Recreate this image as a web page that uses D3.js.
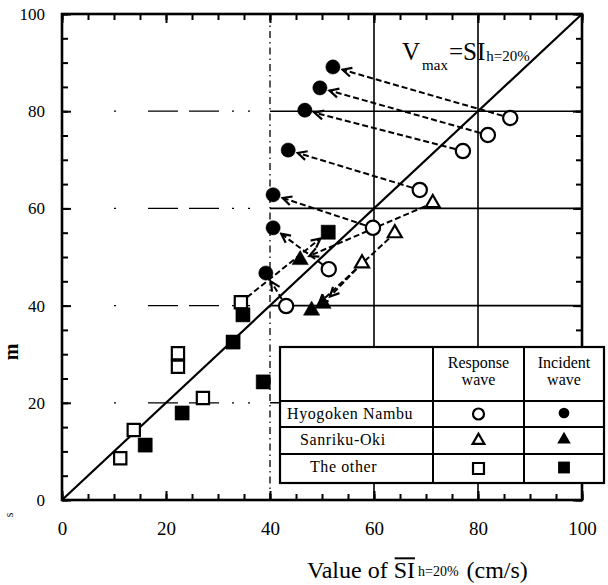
<!DOCTYPE html>
<html>
<head>
<meta charset="utf-8">
<script src="https://cdn.jsdelivr.net/npm/d3@7"></script>
<style>
  body { margin: 0; background: #fff; }
  svg { display: block; font-family: "Liberation Serif", "DejaVu Serif", serif; }
  svg text { font-family: "Liberation Serif", "DejaVu Serif", serif; }
</style>
</head>
<body>
<svg id="chart" width="608" height="585"></svg>
<script>
// values, [SI_h=20%, Vmax]
var hyogokenResponse = [[86.2, 78.6], [81.9, 75.1], [77.1, 71.8], [68.8, 63.8], [59.8, 56.0], [51.3, 47.5], [43.1, 39.9]];
var hyogokenIncident = [[52.1, 89.1], [49.6, 84.8], [46.7, 80.2], [43.5, 72.0], [40.6, 62.8], [40.6, 56.0], [39.2, 46.7]];
var sanrikuResponse = [[71.3, 61.1], [64.0, 54.9], [57.7, 48.7]];
var sanrikuIncident = [[45.8, 49.4], [48.0, 39.0], [50.2, 40.4]];
var otherResponse = [[11.2, 8.6], [13.8, 14.4], [22.3, 30.2], [22.3, 27.4], [27.1, 21.0], [34.4, 40.7]];
var otherIncident = [[16.0, 11.3], [23.1, 17.9], [32.9, 32.5], [34.8, 38.1], [38.7, 24.3], [51.2, 55.1]];
// which response point moved to which incident point (dashed arrows)
var hyogokenLinks = [[0, 0], [1, 1], [2, 2], [3, 3], [4, 4], [5, 5], [6, 6]];
var sanrikuLinks = [[0, 0], [1, 1], [2, 2]];
var otherLinks = [[5, 5]];

var majorTicks = [0, 20, 40, 60, 80, 100];
var minorTicks = d3.range(0, 101, 5);
var gridValues = [20, 40, 60, 80];
var rowLabels = ["Hyogoken Nambu", "Sanriku-Oki", "The other"];

var svg = d3.select("#chart");
var pl = 62, pr = 582, pt = 14, pb = 500;

var x = d3.scaleLinear().domain([0, 100]).range([pl, pr]);
var y = d3.scaleLinear().domain([0, 100]).range([pb, pt]);

// grid
var grid = svg.append("g").attr("stroke", "#000").attr("fill", "none");
gridValues.forEach(function(v) {
  grid.append("line")
    .attr("x1", x(10)).attr("x2", x(40)).attr("y1", y(v)).attr("y2", y(v))
    .attr("stroke-width", 1.3).attr("stroke-dasharray", "2,32,30,11,30,13,2,14");
  grid.append("line")
    .attr("x1", x(40)).attr("x2", x(100)).attr("y1", y(v)).attr("y2", y(v))
    .attr("stroke-width", 1.6);
});
grid.append("line")
  .attr("x1", x(40)).attr("x2", x(40)).attr("y1", y(0)).attr("y2", y(100))
  .attr("stroke-width", 1.3).attr("stroke-dasharray", "7,4,1.5,4");
[60, 80].forEach(function(v) {
  grid.append("line")
    .attr("x1", x(v)).attr("x2", x(v)).attr("y1", y(0)).attr("y2", y(100))
    .attr("stroke-width", 1.6);
});

// 1:1 line
svg.append("line")
  .attr("x1", x(0)).attr("y1", y(0)).attr("x2", x(100)).attr("y2", y(100))
  .attr("stroke", "#000").attr("stroke-width", 2.2);

// arrowhead
svg.append("defs").append("marker")
  .attr("id", "chev")
  .attr("markerUnits", "userSpaceOnUse")
  .attr("viewBox", "-12 -7 14 14")
  .attr("markerWidth", 14).attr("markerHeight", 14)
  .attr("refX", 0).attr("refY", 0)
  .attr("orient", "auto")
  .append("path")
  .attr("d", "M-9,-4.5 L0,0 L-9,4.5")
  .attr("fill", "none").attr("stroke", "#000").attr("stroke-width", 2.2);

function drawLinks(resp, inc, links) {
  links.forEach(function(l) {
    var p0 = [x(resp[l[0]][0]), y(resp[l[0]][1])];
    var p1 = [x(inc[l[1]][0]), y(inc[l[1]][1])];
    var dx = p1[0] - p0[0], dy = p1[1] - p0[1];
    var len = Math.sqrt(dx * dx + dy * dy);
    var s = 8 / len, e = 10 / len;
    svg.append("line")
      .attr("x1", p0[0] + dx * s).attr("y1", p0[1] + dy * s)
      .attr("x2", p1[0] - dx * e).attr("y2", p1[1] - dy * e)
      .attr("stroke", "#000").attr("stroke-width", 2)
      .attr("stroke-dasharray", "6,3")
      .attr("marker-end", "url(#chev)");
  });
}
drawLinks(hyogokenResponse, hyogokenIncident, hyogokenLinks);
drawLinks(sanrikuResponse, sanrikuIncident, sanrikuLinks);
drawLinks(otherResponse, otherIncident, otherLinks);

// markers
function drawPoints(data, type, size, filled) {
  svg.append("g").selectAll("path").data(data).enter().append("path")
    .attr("transform", function(d) { return "translate(" + x(d[0]) + "," + y(d[1]) + ")"; })
    .attr("d", d3.symbol().type(type).size(size))
    .attr("fill", filled ? "#000" : "#fff")
    .attr("stroke", "#000").attr("stroke-width", filled ? 0.5 : 2.2);
}
drawPoints(hyogokenResponse, d3.symbolCircle, 160, false);
drawPoints(hyogokenIncident, d3.symbolCircle, 160, true);
drawPoints(sanrikuResponse, d3.symbolTriangle, 85, false);
drawPoints(sanrikuIncident, d3.symbolTriangle, 115, true);
drawPoints(otherResponse, d3.symbolSquare, 150, false);
drawPoints(otherIncident, d3.symbolSquare, 200, true);

// axes: ticks inward on all four sides
function tickAxis(axis, tr, size, labels, pad) {
  var g = svg.append("g").attr("transform", tr)
    .call(axis.tickSizeInner(-size).tickSizeOuter(0).tickPadding(pad)
      .tickFormat(labels ? d3.format("d") : ""));
  g.select(".domain").remove();
  g.attr("font-family", null);
  g.selectAll(".tick line").attr("stroke-width", 2);
  return g;
}
var xb = tickAxis(d3.axisBottom(x).tickValues(majorTicks), "translate(0," + pb + ")", 9, true, 22);
tickAxis(d3.axisBottom(x).tickValues(minorTicks), "translate(0," + pb + ")", 6, false, 0);
tickAxis(d3.axisTop(x).tickValues(majorTicks), "translate(0," + pt + ")", 9, false, 0);
tickAxis(d3.axisTop(x).tickValues(minorTicks), "translate(0," + pt + ")", 6, false, 0);
var yl = tickAxis(d3.axisLeft(y).tickValues(majorTicks), "translate(" + pl + ",0)", 9, true, 17);
tickAxis(d3.axisLeft(y).tickValues(minorTicks), "translate(" + pl + ",0)", 6, false, 0);
tickAxis(d3.axisRight(y).tickValues(majorTicks), "translate(" + pr + ",0)", 9, false, 0);
tickAxis(d3.axisRight(y).tickValues(minorTicks), "translate(" + pr + ",0)", 6, false, 0);
xb.selectAll("text").attr("font-size", 19);
yl.selectAll("text").attr("font-size", 17);

svg.append("rect")
  .attr("x", pl).attr("y", pt).attr("width", pr - pl).attr("height", pb - pt)
  .attr("fill", "none").attr("stroke", "#000").attr("stroke-width", 2.6);

// legend table
var lg = svg.append("g");
var colX = [280, 433, 524, 604];
var rowY = [347, 401, 427, 454, 483];
lg.append("rect")
  .attr("x", colX[0]).attr("y", rowY[0]).attr("width", colX[3] - colX[0]).attr("height", rowY[4] - rowY[0])
  .attr("fill", "#fff").attr("stroke", "#000").attr("stroke-width", 2.2);
colX.slice(1, 3).forEach(function(cx) {
  lg.append("line").attr("x1", cx).attr("x2", cx).attr("y1", rowY[0]).attr("y2", rowY[4])
    .attr("stroke", "#000").attr("stroke-width", 2);
});
rowY.slice(1, 4).forEach(function(ry) {
  lg.append("line").attr("x1", colX[0]).attr("x2", colX[3]).attr("y1", ry).attr("y2", ry)
    .attr("stroke", "#000").attr("stroke-width", 2);
});
[["Response", "wave"], ["Incident", "wave"]].forEach(function(h, i) {
  var cx = (colX[i + 1] + colX[i + 2]) / 2;
  h.forEach(function(t, j) {
    lg.append("text").attr("x", cx).attr("y", 368 + j * 17)
      .attr("text-anchor", "middle").attr("font-size", 16).text(t);
  });
});
var labelX = [287, 300, 310];
rowLabels.forEach(function(t, i) {
  lg.append("text").attr("x", labelX[i]).attr("y", rowY[i + 1] + 18)
    .attr("font-size", 16).attr("letter-spacing", 0.6).text(t);
});
var legendSyms = [[d3.symbolCircle, 95, 90], [d3.symbolTriangle, 60, 80], [d3.symbolSquare, 120, 140]];
legendSyms.forEach(function(s, i) {
  var cy = (rowY[i + 1] + rowY[i + 2]) / 2;
  lg.append("path").attr("transform", "translate(" + ((colX[1] + colX[2]) / 2) + "," + cy + ")")
    .attr("d", d3.symbol().type(s[0]).size(s[1]))
    .attr("fill", "#fff").attr("stroke", "#000").attr("stroke-width", 2.2);
  lg.append("path").attr("transform", "translate(" + ((colX[2] + colX[3]) / 2) + "," + (cy - 1) + ")")
    .attr("d", d3.symbol().type(s[0]).size(s[2]))
    .attr("fill", "#000");
});

// pieces of text laid one after another
function runText(parts, x0) {
  var cx = x0;
  parts.forEach(function(p) {
    var t = svg.append("text").attr("x", cx).attr("y", p.y).attr("font-size", p.size).text(p.text);
    var w = t.node().getComputedTextLength();
    if (p.over) {
      svg.append("line").attr("x1", cx + 1).attr("x2", cx + w).attr("y1", p.y - p.size * 0.82).attr("y2", p.y - p.size * 0.82)
        .attr("stroke", "#000").attr("stroke-width", 2);
    }
    cx += w + (p.gap || 0);
  });
}
// annotation
runText([
  {text: "V", size: 25, y: 60, gap: 2},
  {text: "max", size: 15, y: 70, gap: 1},
  {text: "=SI", size: 25, y: 60, gap: 1},
  {text: "h=20%", size: 15, y: 61}
], 402);
// x title
runText([
  {text: "Value of", size: 24, y: 578, gap: 6},
  {text: "SI", size: 24, y: 578, over: true, gap: 3},
  {text: "h=20%", size: 14, y: 576, gap: 8},
  {text: "(cm/s)", size: 24, y: 578}
], 307);

// y title fragments at the left edge (the rest is cut off in the source)
svg.append("text").attr("transform", "translate(18,352) rotate(-90)")
  .attr("text-anchor", "middle").attr("font-size", 20).attr("font-weight", "bold").text("m");
svg.append("text").attr("transform", "translate(13,515) rotate(-90)")
  .attr("text-anchor", "middle").attr("font-size", 12).text("s");
</script>
</body>
</html>
